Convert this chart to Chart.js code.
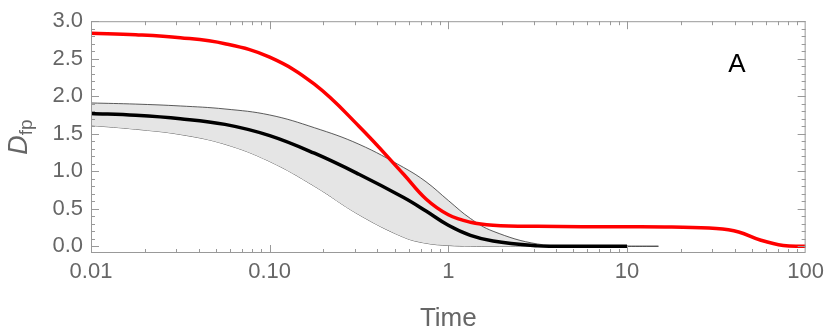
<!DOCTYPE html>
<html>
<head>
<meta charset="utf-8">
<script src="https://cdn.jsdelivr.net/npm/chart.js@4"></script>
<style>
  html, body { margin: 0; padding: 0; background: #fff; }
  #chart { display: block; }
</style>
</head>
<body>
<canvas id="chart" width="830" height="336"></canvas>
<script>
// red curve
var redTime = [0.01, 0.0178, 0.0316, 0.0562, 0.1, 0.178, 0.316, 0.562, 0.75, 1, 1.33, 1.78, 3.16, 10, 17.8, 31.6, 42.2, 56.2, 75, 100]
var redVal = [2.84, 2.82, 2.78, 2.70, 2.52, 2.16, 1.60, 0.96, 0.63, 0.42, 0.32, 0.28, 0.265, 0.26, 0.255, 0.235, 0.19, 0.08, 0.01, 0.0]

// black curve
var blackTime = [0.01, 0.0178, 0.0316, 0.0562, 0.1, 0.178, 0.316, 0.562, 0.75, 1, 1.33, 1.78, 3.16, 4, 10]
var blackVal = [1.77, 1.745, 1.70, 1.625, 1.475, 1.24, 0.96, 0.65, 0.47, 0.28, 0.145, 0.07, 0.005, 0.0, 0.0]

// grey band
var bandTime = [0.01, 0.0178, 0.0316, 0.0562, 0.1, 0.178, 0.316, 0.562, 0.75, 1, 1.33, 1.78, 3.16, 5.62, 10, 15]
var bandHigh = [1.91, 1.895, 1.87, 1.83, 1.75, 1.58, 1.36, 1.05, 0.86, 0.61, 0.37, 0.20, 0.03, 0.005, 0.0, 0.0]
var bandLow = [1.61, 1.56, 1.49, 1.36, 1.13, 0.80, 0.42, 0.12, 0.04, 0.01, 0.0, 0.0, 0.0, 0.0, 0.0, 0.0]

var xTicks = [0.01, 0.1, 1, 10, 100]
var xTickLabels = ["0.01", "0.10", "1", "10", "100"]
var yTicks = [0, 0.5, 1, 1.5, 2, 2.5, 3]

var fontFam = '"Liberation Sans", Arial, sans-serif'
var grey = '#666666'

function pts(t, v) {
    return t.map(function (x, i) { return {x: x, y: v[i]} })
}

// frame with inward ticks on all four sides, plus the panel letter and y title
var framePlugin = {
    id: 'frame',
    afterDraw: function (chart) {
        var ctx = chart.ctx
        var a = chart.chartArea
        var xs = chart.scales.x, ys = chart.scales.y
        ctx.save()
        ctx.strokeStyle = '#999'
        ctx.lineWidth = 1
        ctx.strokeRect(a.left + 0.5, a.top + 0.5, a.right - a.left - 1, a.bottom - a.top - 1)

        ctx.beginPath()
        // y ticks
        for (var i = 0; i <= 30; i++) {
            var v = i / 10
            var py = Math.round(ys.getPixelForValue(v)) + 0.5
            var len = (i % 5 === 0) ? 8 : 4
            ctx.moveTo(a.left, py); ctx.lineTo(a.left + len, py)
            ctx.moveTo(a.right, py); ctx.lineTo(a.right - len, py)
        }
        // x ticks
        for (var e = -2; e < 2; e++) {
            for (var k = 1; k <= 9; k++) {
                var t = k * Math.pow(10, e)
                var px = Math.round(xs.getPixelForValue(t)) + 0.5
                var l = (k === 1) ? 8 : 4
                ctx.moveTo(px, a.bottom); ctx.lineTo(px, a.bottom - l)
                ctx.moveTo(px, a.top); ctx.lineTo(px, a.top + l)
            }
        }
        ctx.stroke()

        // panel letter
        ctx.fillStyle = '#000'
        ctx.font = '26px ' + fontFam
        ctx.textAlign = 'center'
        ctx.textBaseline = 'alphabetic'
        ctx.fillText('A', 737, 72)

        // y title D_fp
        ctx.fillStyle = grey
        ctx.textAlign = 'left'
        var fD = 'italic 27px ' + fontFam
        var fS = '19px ' + fontFam
        ctx.font = fD
        var wD = ctx.measureText('D').width
        ctx.font = fS
        var wS = ctx.measureText('fp').width
        var total = wD + wS
        ctx.translate(27, 137 + total / 2)
        ctx.rotate(-Math.PI / 2)
        ctx.font = fD
        ctx.fillText('D', 0, 0)
        ctx.font = fS
        ctx.fillText('fp', wD, 5)
        ctx.restore()
    }
}

function line(label, t, v, color, width, order) {
    return {
        label: label,
        data: pts(t, v),
        showLine: true,
        borderColor: color,
        borderWidth: width,
        pointRadius: 0,
        tension: 0.4,
        fill: false,
        order: order
    }
}

var high = line('high', bandTime, bandHigh, '#333', 0.8, 2)
high.fill = '+1'
high.backgroundColor = '#e5e5e5'

new Chart('chart', {
    type: 'scatter',
    data: {
        datasets: [
            line('red', redTime, redVal, '#ff0000', 3.5, 0),
            line('black', blackTime, blackVal, '#000', 3.5, 1),
            high,
            line('low', bandTime, bandLow, '#333', 0.8, 3)
        ]
    },
    options: {
        responsive: false,
        animation: false,
        events: [],
        layout: { padding: { left: 0, right: 21, top: 14, bottom: 0 } },
        plugins: { legend: { display: false }, tooltip: { enabled: false } },
        scales: {
            x: {
                type: 'logarithmic',
                min: 0.01,
                max: 100,
                grid: { display: false, drawTicks: false },
                border: { display: false },
                afterBuildTicks: function (s) { s.ticks = xTicks.map(function (v) { return {value: v} }) },
                afterFit: function (s) { s.height = 83 },
                ticks: {
                    color: grey,
                    font: { family: fontFam, size: 22 },
                    padding: 6,
                    maxRotation: 0,
                    autoSkip: false,
                    callback: function (v) { return xTickLabels[xTicks.indexOf(v)] }
                },
                title: {
                    display: true,
                    text: 'Time',
                    color: grey,
                    font: { family: fontFam, size: 26 },
                    padding: { top: 0, bottom: 2 }
                }
            },
            y: {
                min: -0.09,
                max: 3.0,
                grid: { display: false, drawTicks: false },
                border: { display: false },
                afterBuildTicks: function (s) { s.ticks = yTicks.map(function (v) { return {value: v} }) },
                afterFit: function (s) { s.width = 91 },
                ticks: {
                    color: grey,
                    font: { family: fontFam, size: 22 },
                    padding: 8,
                    callback: function (v) { return v.toFixed(1) }
                }
            }
        }
    },
    plugins: [framePlugin]
});
</script>
</body>
</html>
